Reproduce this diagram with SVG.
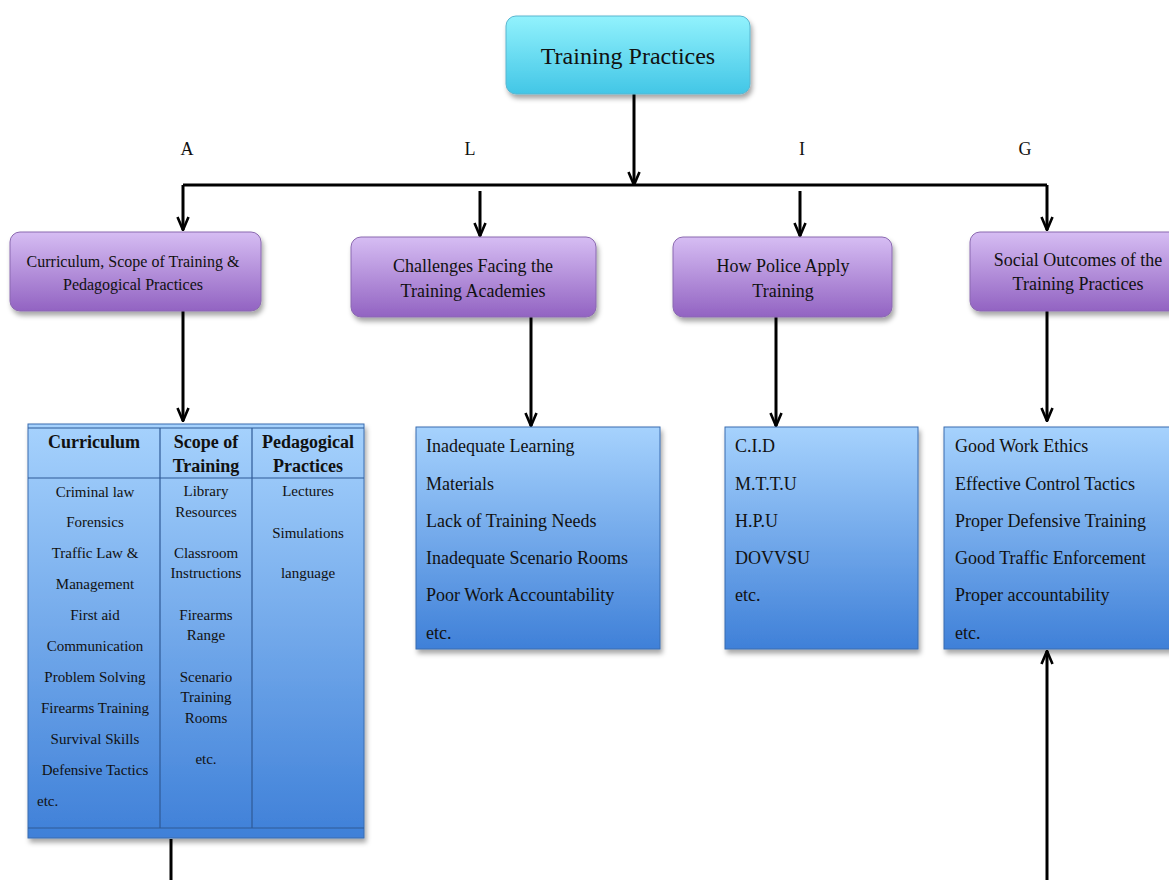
<svg xmlns="http://www.w3.org/2000/svg" width="1169" height="880" viewBox="0 0 1169 880">
<style>
text{font-family:"Liberation Serif","Times New Roman",serif;fill:#111}
.t{font-size:24px;text-anchor:middle}
.l{font-size:18px;text-anchor:middle}
.p{font-size:18px;text-anchor:middle}
.p16{font-size:16px;text-anchor:middle}
.h{font-size:18px;font-weight:bold;text-anchor:middle}
.c{font-size:15px;text-anchor:middle}
.i{font-size:18px}
.ln{stroke:#000;stroke-width:3;fill:none}
.grid{stroke:#2f5a96;stroke-width:1.2;fill:none}
</style>
<defs>
<linearGradient id="gc" x1="0" y1="0" x2="0" y2="1"><stop offset="0" stop-color="#92f2fd"/><stop offset="1" stop-color="#42c6e6"/></linearGradient>
<linearGradient id="gp" x1="0" y1="0" x2="0" y2="1"><stop offset="0" stop-color="#d6bdf3"/><stop offset="1" stop-color="#9263c2"/></linearGradient>
<linearGradient id="gb" x1="0" y1="0" x2="0" y2="1"><stop offset="0" stop-color="#a6d2fd"/><stop offset="1" stop-color="#3f80d8"/></linearGradient>
<filter id="sh" x="-10%" y="-10%" width="125%" height="130%"><feDropShadow dx="2" dy="4" stdDeviation="2.5" flood-color="#000" flood-opacity="0.35"/></filter>
<marker id="ar" markerUnits="userSpaceOnUse" markerWidth="16" markerHeight="14" viewBox="0 0 16 14" refX="15" refY="7" orient="auto"><path d="M2,1.5 L15,7 L2,12.5" fill="none" stroke="#000" stroke-width="2.6"/></marker>
</defs>

<g id="connectors">
<line class="ln" x1="634" y1="94" x2="634" y2="185" marker-end="url(#ar)"/>
<line class="ln" x1="183" y1="185" x2="1047" y2="185"/>
<line class="ln" x1="183" y1="185" x2="183" y2="230" marker-end="url(#ar)"/>
<line class="ln" x1="480" y1="191" x2="480" y2="236" marker-end="url(#ar)"/>
<line class="ln" x1="800" y1="191" x2="800" y2="236" marker-end="url(#ar)"/>
<line class="ln" x1="1047" y1="185" x2="1047" y2="230" marker-end="url(#ar)"/>
<line class="ln" x1="183" y1="311" x2="183" y2="421" marker-end="url(#ar)"/>
<line class="ln" x1="531" y1="317" x2="531" y2="426" marker-end="url(#ar)"/>
<line class="ln" x1="776" y1="317" x2="776" y2="426" marker-end="url(#ar)"/>
<line class="ln" x1="1047" y1="311" x2="1047" y2="421" marker-end="url(#ar)"/>
<line class="ln" x1="171" y1="839" x2="171" y2="880"/>
<line class="ln" x1="1047" y1="880" x2="1047" y2="651" marker-end="url(#ar)"/>
</g>

<g id="labels">
<text class="l" x="187" y="155">A</text>
<text class="l" x="470" y="155">L</text>
<text class="l" x="802" y="155">I</text>
<text class="l" x="1025" y="155">G</text>
</g>

<g id="training-practices">
<rect x="506" y="16" width="244" height="78" rx="10" fill="url(#gc)" stroke="#5ab6d0" stroke-width="1" filter="url(#sh)"/>
<text class="t" x="628" y="64">Training Practices</text>
</g>

<g id="curriculum-node">
<rect x="10" y="232" width="251" height="79" rx="10" fill="url(#gp)" stroke="#8a68b0" stroke-width="1" filter="url(#sh)"/>
<text class="p16" x="133" y="267">Curriculum, Scope of Training &amp;</text>
<text class="p16" x="133" y="290">Pedagogical Practices</text>
</g>

<g id="challenges-node">
<rect x="351" y="237" width="245" height="80" rx="10" fill="url(#gp)" stroke="#8a68b0" stroke-width="1" filter="url(#sh)"/>
<text class="p" x="473" y="272">Challenges Facing the</text>
<text class="p" x="473" y="297">Training Academies</text>
</g>

<g id="police-node">
<rect x="673" y="237" width="219" height="80" rx="10" fill="url(#gp)" stroke="#8a68b0" stroke-width="1" filter="url(#sh)"/>
<text class="p" x="783" y="272">How Police Apply</text>
<text class="p" x="783" y="297">Training</text>
</g>

<g id="social-node">
<rect x="970" y="232" width="215" height="79" rx="10" fill="url(#gp)" stroke="#8a68b0" stroke-width="1" filter="url(#sh)"/>
<text class="p" x="1078" y="266">Social Outcomes of the</text>
<text class="p" x="1078" y="290">Training Practices</text>
</g>

<g id="curriculum-table">
<rect x="28" y="424" width="336" height="414" fill="url(#gb)" stroke="#3a6cb0" stroke-width="1" filter="url(#sh)"/>
<line class="grid" x1="28" y1="478" x2="364" y2="478"/>
<line class="grid" x1="28" y1="828" x2="364" y2="828"/>
<line class="grid" x1="160" y1="428" x2="160" y2="828"/>
<line class="grid" x1="252" y1="428" x2="252" y2="828"/>
<line class="grid" x1="28" y1="428" x2="364" y2="428"/>
<text class="h" x="94" y="448">Curriculum</text>
<text class="h" x="206" y="448">Scope of</text>
<text class="h" x="206" y="472">Training</text>
<text class="h" x="308" y="448">Pedagogical</text>
<text class="h" x="308" y="472">Practices</text>
<text class="c" x="95" y="497">Criminal law</text>
<text class="c" x="95" y="527">Forensics</text>
<text class="c" x="95" y="558">Traffic Law &amp;</text>
<text class="c" x="95" y="589">Management</text>
<text class="c" x="95" y="620">First aid</text>
<text class="c" x="95" y="651">Communication</text>
<text class="c" x="95" y="682">Problem Solving</text>
<text class="c" x="95" y="713">Firearms Training</text>
<text class="c" x="95" y="744">Survival Skills</text>
<text class="c" x="95" y="775">Defensive Tactics</text>
<text class="c" x="37" y="806" style="text-anchor:start">etc.</text>
<text class="c" x="206" y="496">Library</text>
<text class="c" x="206" y="517">Resources</text>
<text class="c" x="206" y="558">Classroom</text>
<text class="c" x="206" y="578">Instructions</text>
<text class="c" x="206" y="620">Firearms</text>
<text class="c" x="206" y="640">Range</text>
<text class="c" x="206" y="682">Scenario</text>
<text class="c" x="206" y="702">Training</text>
<text class="c" x="206" y="723">Rooms</text>
<text class="c" x="206" y="764">etc.</text>
<text class="c" x="308" y="496">Lectures</text>
<text class="c" x="308" y="538">Simulations</text>
<text class="c" x="308" y="578">language</text>
</g>

<g id="challenges-list">
<rect x="416" y="427" width="244" height="222" fill="url(#gb)" stroke="#3a6cb0" stroke-width="1" filter="url(#sh)"/>
<text class="i" x="426" y="452">Inadequate Learning</text>
<text class="i" x="426" y="490">Materials</text>
<text class="i" x="426" y="527">Lack of Training Needs</text>
<text class="i" x="426" y="564">Inadequate Scenario Rooms</text>
<text class="i" x="426" y="601">Poor Work Accountability</text>
<text class="i" x="426" y="639">etc.</text>
</g>

<g id="police-list">
<rect x="725" y="427" width="193" height="222" fill="url(#gb)" stroke="#3a6cb0" stroke-width="1" filter="url(#sh)"/>
<text class="i" x="735" y="452">C.I.D</text>
<text class="i" x="735" y="490">M.T.T.U</text>
<text class="i" x="735" y="527">H.P.U</text>
<text class="i" x="735" y="564">DOVVSU</text>
<text class="i" x="735" y="601">etc.</text>
</g>

<g id="social-list">
<rect x="944" y="427" width="240" height="222" fill="url(#gb)" stroke="#3a6cb0" stroke-width="1" filter="url(#sh)"/>
<text class="i" x="955" y="452">Good Work Ethics</text>
<text class="i" x="955" y="490">Effective Control Tactics</text>
<text class="i" x="955" y="527">Proper Defensive Training</text>
<text class="i" x="955" y="564">Good Traffic Enforcement</text>
<text class="i" x="955" y="601">Proper accountability</text>
<text class="i" x="955" y="639">etc.</text>
</g>
</svg>
